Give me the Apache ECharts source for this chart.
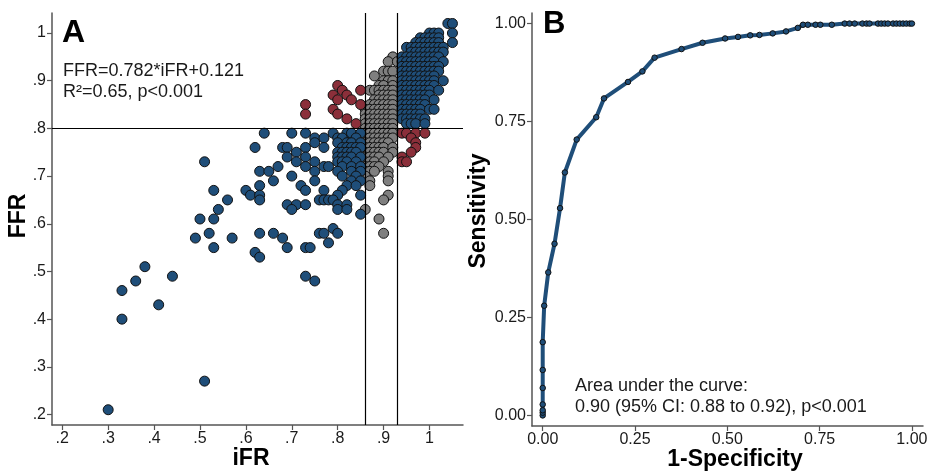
<!DOCTYPE html>
<html>
<head>
<meta charset="utf-8">
<script src="https://cdn.jsdelivr.net/npm/echarts@6/dist/echarts.min.js"></script>
<style>
  html, body { margin: 0; padding: 0; background: #fff; }
  #chart { width: 931px; height: 471px; }
</style>
</head>
<body>
<div id="chart"></div>
<script>
// ---- Panel A: iFR vs FFR (each row: FFR value, then the iFR values at that FFR) ----
const upperClusterRows = [
  [1.02, [1.04, 1.05]],
  [1.00, [1.00, 1.01, 1.02, 1.05]],
  [0.99, [0.98, 0.99, 1.00, 1.01, 1.02]],
  [0.98, [0.97, 0.98, 0.99, 1.00, 1.01, 1.02, 1.05]],
  [0.97, [0.95, 0.96, 0.97, 0.98, 0.99, 1.00, 1.01, 1.02, 1.03]],
  [0.96, [0.96, 0.97, 0.98, 0.99, 1.00, 1.01, 1.02, 1.03]],
  [0.95, [0.94, 0.95, 0.96, 0.97, 0.98, 0.99, 1.00, 1.01, 1.02]],
  [0.94, [0.94, 0.95, 0.96, 0.97, 0.98, 0.99, 1.00, 1.01, 1.03]],
  [0.93, [0.94, 0.95, 0.96, 0.97, 0.98, 0.99, 1.00, 1.01, 1.02]],
  [0.92, [0.94, 0.95, 0.96, 0.97, 0.98, 0.99, 1.00, 1.01, 1.02]],
  [0.91, [0.94, 0.95, 0.96, 0.97, 0.98, 0.99, 1.00, 1.01]],
  [0.90, [0.94, 0.95, 0.96, 0.97, 0.98, 0.99, 1.00, 1.01, 1.03]],
  [0.89, [0.94, 0.95, 0.96, 0.97, 0.98, 0.99, 1.00, 1.01]],
  [0.88, [0.94, 0.95, 0.96, 0.97, 0.98, 0.99, 1.00, 1.02]],
  [0.87, [0.94, 0.95, 0.96, 0.97, 0.98, 0.99, 1.00]],
  [0.86, [0.94, 0.95, 0.96, 0.97, 0.98, 0.99, 1.01]],
  [0.85, [0.94, 0.95, 0.96, 0.97, 0.98, 0.99]],
  [0.84, [0.94, 0.95, 0.96, 0.97, 0.98, 1.00, 1.01]],
  [0.83, [0.94, 0.95, 0.96, 0.97, 0.98]],
  [0.82, [0.94, 0.95, 0.96, 0.97, 0.98, 0.99]],
  [0.81, [0.95, 0.96, 0.97, 0.99]]
];

const greyZoneRows = [
  [0.95, [0.92]],
  [0.94, [0.91, 0.93]],
  [0.92, [0.90, 0.91, 0.92]],
  [0.91, [0.88]],
  [0.90, [0.90, 0.91, 0.92]],
  [0.89, [0.89, 0.90, 0.92]],
  [0.88, [0.87, 0.88, 0.89, 0.90, 0.91, 0.92]],
  [0.87, [0.89, 0.90, 0.91, 0.92]],
  [0.86, [0.88, 0.89, 0.90, 0.91, 0.92]],
  [0.85, [0.87, 0.88, 0.89, 0.90, 0.91, 0.92]],
  [0.84, [0.86, 0.87, 0.88, 0.89, 0.90, 0.91, 0.92]],
  [0.83, [0.86, 0.87, 0.88, 0.89, 0.90, 0.91, 0.92]],
  [0.82, [0.86, 0.87, 0.88, 0.89, 0.90, 0.91, 0.92]],
  [0.81, [0.86, 0.87, 0.88, 0.89, 0.90, 0.91, 0.92]],
  [0.80, [0.86, 0.87, 0.88, 0.89, 0.90, 0.91, 0.92]],
  [0.79, [0.86, 0.87, 0.88, 0.89, 0.90, 0.91, 0.92]],
  [0.78, [0.86, 0.87, 0.88, 0.89, 0.90, 0.91, 0.92]],
  [0.77, [0.86, 0.87, 0.88, 0.89, 0.90, 0.91]],
  [0.76, [0.86, 0.87, 0.88, 0.89, 0.90, 0.92]],
  [0.75, [0.86, 0.87, 0.88, 0.89, 0.90, 0.92]],
  [0.74, [0.86, 0.87, 0.88, 0.89, 0.91]],
  [0.73, [0.86, 0.87, 0.88, 0.90]],
  [0.72, [0.86, 0.87, 0.88, 0.89]],
  [0.71, [0.86, 0.87, 0.88, 0.91]],
  [0.70, [0.86, 0.91]],
  [0.69, [0.87, 0.91]],
  [0.68, [0.87]],
  [0.66, [0.91]],
  [0.65, [0.90]],
  [0.63, [0.86]],
  [0.61, [0.89]],
  [0.58, [0.90]]
];

const lowerClusterRows = [
  [0.79, [0.64, 0.70, 0.73, 0.79, 0.82, 0.83, 0.85]],
  [0.78, [0.75, 0.77, 0.80, 0.81, 0.84]],
  [0.77, [0.75, 0.80, 0.82, 0.83, 0.85]],
  [0.76, [0.62, 0.68, 0.69, 0.73, 0.77, 0.81, 0.82, 0.83, 0.84, 0.85]],
  [0.75, [0.71, 0.80, 0.81, 0.82, 0.83, 0.84]],
  [0.74, [0.69, 0.73, 0.80, 0.81, 0.82, 0.83, 0.85]],
  [0.73, [0.51, 0.71, 0.75, 0.80, 0.81, 0.82, 0.84]],
  [0.72, [0.67, 0.73, 0.77, 0.78, 0.81, 0.83, 0.85]],
  [0.71, [0.63, 0.65, 0.75, 0.80, 0.83, 0.85]],
  [0.70, [0.70, 0.81, 0.84]],
  [0.69, [0.66, 0.75, 0.83, 0.85]],
  [0.68, [0.63, 0.72, 0.82, 0.84]],
  [0.67, [0.53, 0.60, 0.73, 0.77, 0.81]],
  [0.66, [0.61, 0.63, 0.80, 0.85]],
  [0.65, [0.56, 0.63, 0.76, 0.77, 0.78, 0.79]],
  [0.64, [0.69, 0.71, 0.73, 0.80, 0.82]],
  [0.63, [0.54, 0.70, 0.80, 0.82]],
  [0.62, [0.85]],
  [0.61, [0.50, 0.53]],
  [0.59, [0.79]],
  [0.58, [0.52, 0.63, 0.66, 0.76, 0.77, 0.80]],
  [0.57, [0.49, 0.57, 0.68]],
  [0.56, [0.78]],
  [0.55, [0.53, 0.69, 0.73, 0.74]],
  [0.54, [0.62]],
  [0.53, [0.63]],
  [0.51, [0.38]],
  [0.49, [0.44, 0.73]],
  [0.48, [0.36, 0.75]],
  [0.46, [0.33]],
  [0.43, [0.41]],
  [0.40, [0.33]],
  [0.27, [0.51]],
  [0.21, [0.30]]
];

const discordantRows = [
  [0.89, [0.80]],
  [0.88, [0.81, 0.85]],
  [0.87, [0.79, 0.82]],
  [0.86, [0.80, 0.83]],
  [0.85, [0.73, 0.85]],
  [0.84, [0.79]],
  [0.83, [0.73, 0.80]],
  [0.82, [0.82]],
  [0.81, [0.84]],
  [0.79, [0.94, 0.95, 0.97, 0.99]],
  [0.78, [0.96]],
  [0.77, [0.97]],
  [0.76, [0.97]],
  [0.75, [0.96]],
  [0.74, [0.94]],
  [0.73, [0.94, 0.95]]
];

// cut-offs: iFR grey zone and FFR ischaemia threshold
const IFR_LOW = 0.86;
const IFR_HIGH = 0.93;
const FFR_CUT = 0.80;

const iFRTicks = [0.2, 0.3, 0.4, 0.5, 0.6, 0.7, 0.8, 0.9, 1.0];
const iFRTickLabels = ['.2', '.3', '.4', '.5', '.6', '.7', '.8', '.9', '1'];
const ffrTicks = [0.2, 0.3, 0.4, 0.5, 0.6, 0.7, 0.8, 0.9, 1.0];
const ffrTickLabels = ['.2', '.3', '.4', '.5', '.6', '.7', '.8', '.9', '1'];

// ---- Panel B: ROC curve ----
const oneMinusSpecificity = [
  0, 0, 0, 0, 0, 0, 0, 0.004, 0.015, 0.032, 0.047, 0.060, 0.092, 0.145, 0.166,
  0.231, 0.270, 0.303, 0.376, 0.433, 0.494, 0.529, 0.562, 0.587, 0.623, 0.659,
  0.691, 0.705, 0.718, 0.739, 0.752, 0.783, 0.818, 0.831, 0.845, 0.866, 0.877,
  0.885, 0.908, 0.917, 0.926, 0.935, 0.949, 0.958, 0.967, 0.976, 0.985, 0.994, 1.0
];
const sensitivity = [
  0, 0.007, 0.013, 0.028, 0.070, 0.116, 0.187, 0.280, 0.365, 0.438, 0.529, 0.620, 0.704, 0.761, 0.809,
  0.851, 0.878, 0.913, 0.935, 0.951, 0.962, 0.966, 0.970, 0.971, 0.975, 0.980,
  0.989, 0.997, 0.997, 0.997, 0.997, 0.997, 1.0, 1.0, 1.0, 1.0, 1.0,
  1.0, 1.0, 1.0, 1.0, 1.0, 1.0, 1.0, 1.0, 1.0, 1.0, 1.0, 1.0
];
const rocTicks = [0, 0.25, 0.5, 0.75, 1.0];
const rocTickLabels = ['0.00', '0.25', '0.50', '0.75', '1.00'];

// ---- build scatter groups ----
function expandRows(rows) {
  const pts = [];
  rows.forEach(([ffr, ifrs]) => ifrs.forEach(ifr => pts.push([ifr, ffr])));
  return pts;
}
const allPoints = []
  .concat(expandRows(upperClusterRows), expandRows(greyZoneRows),
          expandRows(lowerClusterRows), expandRows(discordantRows))
  .sort((a, b) => b[1] - a[1]);

function classify(p) {
  const [ifr, ffr] = p;
  if (ifr >= IFR_LOW && ifr <= IFR_HIGH) return 'grey';
  return (ifr < IFR_LOW) === (ffr <= FFR_CUT) ? 'match' : 'mismatch';
}
const matchPts = allPoints.filter(p => classify(p) === 'match');
const greyPts = allPoints.filter(p => classify(p) === 'grey');
const mismatchPts = allPoints.filter(p => classify(p) === 'mismatch');

const rocData = oneMinusSpecificity.map((x, i) => [x, sensitivity[i]]);

const FONT = '"Liberation Sans", Arial, Helvetica, sans-serif';
const AXIS_COLOR = '#555';
const BLUE = '#1f4e79';

function labelFrom(ticks, labels) {
  return v => {
    const i = ticks.findIndex(t => Math.abs(t - v) < 1e-9);
    return i >= 0 ? labels[i] : '';
  };
}

function axisBase(ticks, labels, extra) {
  return Object.assign({
    type: 'value',
    axisLine: { show: true, onZero: false, lineStyle: { color: AXIS_COLOR, width: 1.5 } },
    axisTick: { show: true, customValues: ticks, length: 5, lineStyle: { color: AXIS_COLOR, width: 1.2 } },
    axisLabel: {
      customValues: ticks, formatter: labelFrom(ticks, labels),
      fontFamily: FONT, fontSize: 16, color: '#1a1a1a', margin: 6
    },
    splitLine: { show: false }
  }, extra);
}

const chart = echarts.init(document.getElementById('chart'), null, { renderer: 'canvas' });

chart.setOption({
  animation: false,
  backgroundColor: '#fff',
  grid: [
    { left: 52, top: 13, width: 411, height: 412 },
    { left: 532, top: 13, width: 391, height: 413 }
  ],
  xAxis: [
    axisBase(iFRTicks, iFRTickLabels, { gridIndex: 0, min: 0.1776, max: 1.073 }),
    axisBase(rocTicks, rocTickLabels, { gridIndex: 1, min: -0.029, max: 1.03 })
  ],
  yAxis: [
    axisBase(ffrTicks, ffrTickLabels, { gridIndex: 0, min: 0.178, max: 1.042 }),
    axisBase(rocTicks, rocTickLabels, { gridIndex: 1, min: -0.027, max: 1.027 })
  ],
  series: [
    {
      type: 'scatter', xAxisIndex: 0, yAxisIndex: 0, z: 1,
      data: [], symbolSize: 0,
      markLine: {
        silent: true, symbol: 'none', animation: false,
        label: { show: false },
        lineStyle: { color: '#000', width: 1.2, type: 'solid' },
        data: [{ xAxis: IFR_LOW }, { xAxis: IFR_HIGH }, { yAxis: FFR_CUT }]
      }
    },
    {
      type: 'scatter', xAxisIndex: 0, yAxisIndex: 0, z: 2,
      data: greyPts, symbolSize: 10,
      itemStyle: { color: '#7f7f7f', borderColor: '#111', borderWidth: 1, opacity: 1 }
    },
    {
      type: 'scatter', xAxisIndex: 0, yAxisIndex: 0, z: 2,
      data: matchPts, symbolSize: 10,
      itemStyle: { color: BLUE, borderColor: '#111', borderWidth: 1, opacity: 1 }
    },
    {
      type: 'scatter', xAxisIndex: 0, yAxisIndex: 0, z: 3,
      data: mismatchPts, symbolSize: 10,
      itemStyle: { color: '#8b2f3a', borderColor: '#111', borderWidth: 1, opacity: 1 }
    },
    {
      type: 'line', xAxisIndex: 1, yAxisIndex: 1,
      data: rocData, smooth: false,
      symbol: 'circle', symbolSize: 5.5, showAllSymbol: true,
      lineStyle: { color: BLUE, width: 4, join: 'round', cap: 'round' },
      itemStyle: { color: BLUE, borderColor: '#111', borderWidth: 1 }
    }
  ],
  graphic: [
    { type: 'text', x: 62, y: 33, style: { text: 'A', font: 'bold 32px ' + FONT, fill: '#000', verticalAlign: 'middle' } },
    { type: 'text', x: 543, y: 24, style: { text: 'B', font: 'bold 31px ' + FONT, fill: '#000', verticalAlign: 'middle' } },
    { type: 'text', x: 63, y: 71, style: { text: 'FFR=0.782*iFR+0.121', font: '18px ' + FONT, fill: '#1a1a1a', verticalAlign: 'middle' } },
    { type: 'text', x: 63, y: 92, style: { text: 'R²=0.65, p<0.001', font: '18px ' + FONT, fill: '#1a1a1a', verticalAlign: 'middle' } },
    { type: 'text', x: 575, y: 386, style: { text: 'Area under the curve:', font: '18px ' + FONT, fill: '#1a1a1a', verticalAlign: 'middle' } },
    { type: 'text', x: 575, y: 407, style: { text: '0.90 (95% CI: 0.88 to 0.92), p<0.001', font: '18px ' + FONT, fill: '#1a1a1a', verticalAlign: 'middle' } },
    { type: 'text', x: 251, y: 459, style: { text: 'iFR', font: 'bold 23px ' + FONT, fill: '#000', align: 'center', verticalAlign: 'middle' } },
    { type: 'text', x: 735, y: 460, style: { text: '1-Specificity', font: 'bold 23px ' + FONT, fill: '#000', align: 'center', verticalAlign: 'middle' } },
    { type: 'text', x: 19, y: 216, rotation: Math.PI / 2, style: { text: 'FFR', font: 'bold 23px ' + FONT, fill: '#000', align: 'center', verticalAlign: 'middle' } },
    { type: 'text', x: 479, y: 211, rotation: Math.PI / 2, style: { text: 'Sensitivity', font: 'bold 23px ' + FONT, fill: '#000', align: 'center', verticalAlign: 'middle' } }
  ]
});
</script>
</body>
</html>
